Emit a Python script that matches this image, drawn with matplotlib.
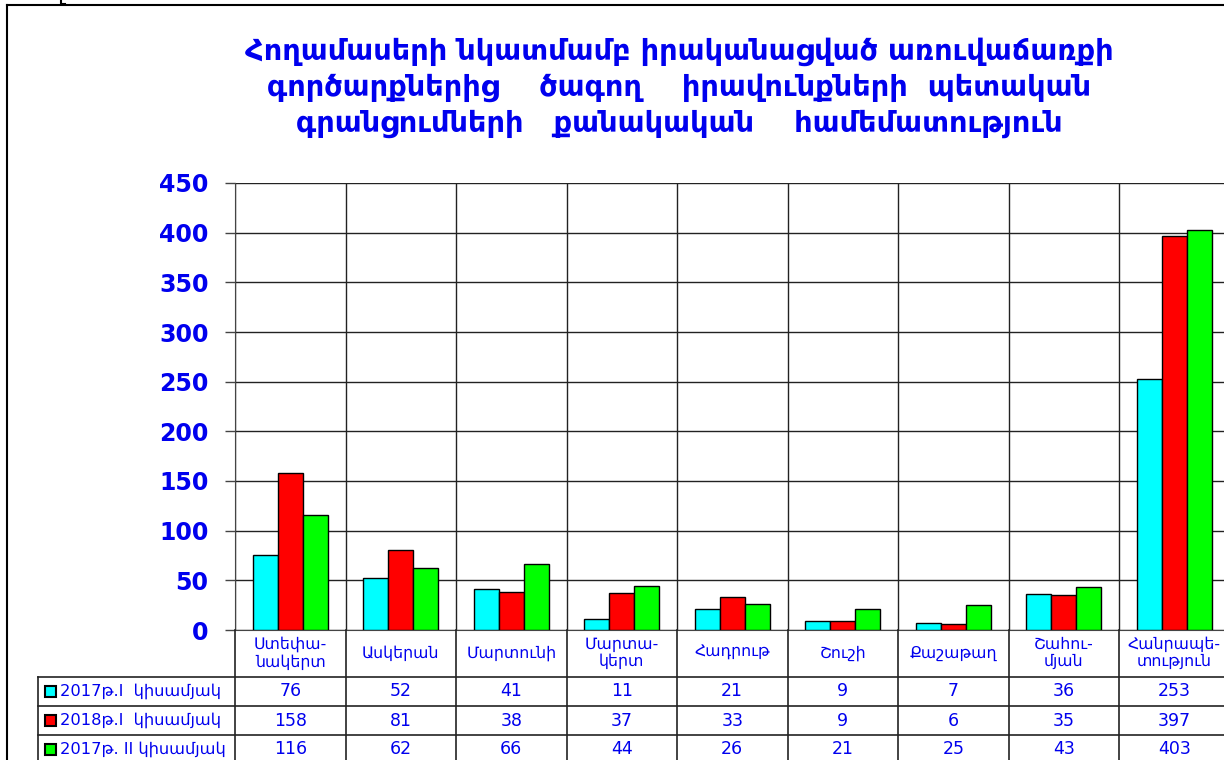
import matplotlib
matplotlib.use("Agg")
import matplotlib.pyplot as plt
from matplotlib.lines import Line2D
from matplotlib.patches import Rectangle
from matplotlib.transforms import blended_transform_factory
import numpy as np

plt.rcParams['font.family'] = ['DejaVu Sans']

title_lines = ["Հողամասերի նկատմամբ իրականացված առուվաճառքի",
               "գործարքներից    ծագող    իրավունքների  պետական",
               "գրանցումների   քանակական    համեմատություն"]
categories = ["Ստեփա-\nնակերտ", "Ասկերան", "Մարտունի", "Մարտա-\nկերտ", "Հադրութ",
              "Շուշի", "Քաշաթաղ", "Շահու-\nմյան", "Հանրապե-\nտություն"]
series_names = ["2017թ.I  կիսամյակ", "2018թ.I  կիսամյակ", "2017թ. II կիսամյակ"]
s2017_1 = [76, 52, 41, 11, 21, 9, 7, 36, 253]
s2018_1 = [158, 81, 38, 37, 33, 9, 6, 35, 397]
s2017_2 = [116, 62, 66, 44, 26, 21, 25, 43, 403]
series = [s2017_1, s2018_1, s2017_2]
colors = ["#00FFFF", "#FF0000", "#00FF00"]
yticks = [0, 50, 100, 150, 200, 250, 300, 350, 400, 450]

W, H = 1224, 760
fig = plt.figure(figsize=(W / 100, H / 100), dpi=100)
fig.patch.set_facecolor("white")

def fx(px):
    return px / W

def fy(py):
    return 1 - py / H

# axes placement (pixels)
ax_left, ax_right, ax_top, ax_bot = 235, 1229.5, 183, 630
ax = fig.add_axes([fx(ax_left), fy(ax_bot), fx(ax_right - ax_left), (ax_bot - ax_top) / H])
n = len(categories)
x = np.arange(n)
bw = 0.226
for i, (vals, c) in enumerate(zip(series, colors)):
    ax.bar(x + (i - 1) * bw, vals, width=bw, color=c, edgecolor="black", linewidth=1.0, zorder=3)

ax.set_xlim(-0.5, n - 0.5)
ax.set_ylim(0, 450)
ax.set_yticks(yticks)
ax.set_yticklabels([str(v) for v in yticks], color="#0000EE", fontsize=17, fontweight="bold")
ax.tick_params(axis="y", length=7, width=1, color="#444444", pad=12)
ax.set_xticks([])
ax.set_xticks(np.arange(n + 1) - 0.5, minor=True)
ax.tick_params(axis="x", which="minor", length=0)
ax.grid(axis="y", which="major", color="#222222", linewidth=1, zorder=0)
ax.grid(axis="x", which="minor", color="#222222", linewidth=1, zorder=0)
for s in ["top", "right"]:
    ax.spines[s].set_visible(False)
ax.spines["left"].set_color("#444444")
ax.spines["bottom"].set_color("#444444")

# title
title_y = [52, 88, 124]
for line, yy in zip(title_lines, title_y):
    fig.text(fx(679), fy(yy), line, ha="center", va="center", color="#0000EE",
             fontsize=20.7, fontweight="bold")

# table
tr = blended_transform_factory(ax.transData, fig.transFigure)
row_y = [630, 677, 706, 735, 764]
line_kw = dict(color="#222222", linewidth=1.2, clip_on=False)
for b in np.arange(n + 1) - 0.5:
    fig.add_artist(Line2D([b, b], [fy(630), fy(764)], transform=tr, **line_kw))
for yy in row_y[1:]:
    fig.add_artist(Line2D([fx(38), fx(1224)], [fy(yy), fy(yy)], transform=fig.transFigure, **line_kw))
fig.add_artist(Line2D([fx(38), fx(38)], [fy(677), fy(764)], transform=fig.transFigure, **line_kw))

for i, lab in enumerate(categories):
    fig.text(i, fy(653), lab, transform=tr, ha="center", va="center", color="#0000EE",
             fontsize=11.3, linespacing=1.15)

for r, (name, vals, c) in enumerate(zip(series_names, series, colors)):
    yc = (row_y[r + 1] + row_y[r + 2]) / 2
    fig.add_artist(Rectangle((fx(45), fy(yc + 5.5)), fx(11), 11 / H, transform=fig.transFigure,
                             facecolor=c, edgecolor="black", linewidth=1.5))
    fig.text(fx(60), fy(yc), name, ha="left", va="center", color="#0000EE", fontsize=11.7)
    for i, v in enumerate(vals):
        fig.text(i, fy(yc), str(v), transform=tr, ha="center", va="center",
                 color="#0000EE", fontsize=12.5)

# outer frame
fig.add_artist(Line2D([fx(7), fx(1224)], [fy(5), fy(5)], transform=fig.transFigure, color="black", linewidth=1.5))
fig.add_artist(Line2D([fx(7), fx(7)], [fy(5), fy(760)], transform=fig.transFigure, color="black", linewidth=1.5))
fig.add_artist(Line2D([fx(61), fx(61), fx(65)], [fy(0), fy(4), fy(4)], transform=fig.transFigure, color="black", linewidth=1.5))

fig.savefig("out.png", dpi=100)
